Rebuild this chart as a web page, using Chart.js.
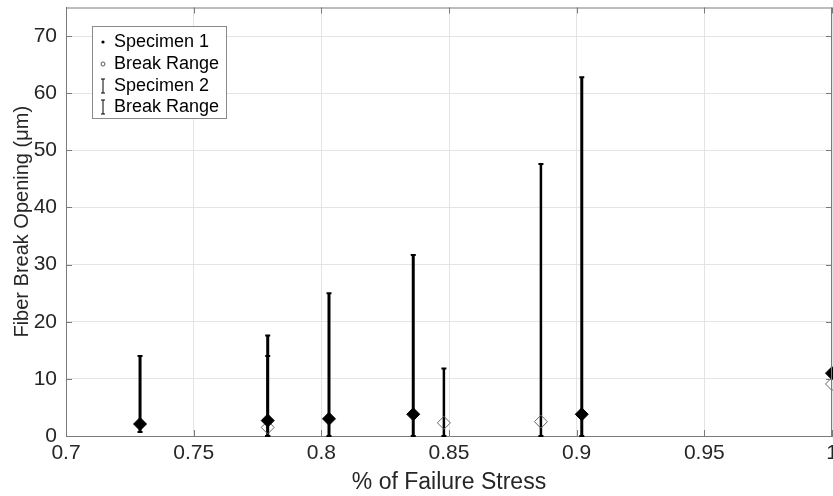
<!DOCTYPE html>
<html>
<head>
<meta charset="utf-8">
<script src="https://cdn.jsdelivr.net/npm/chart.js@4"></script>
<style>
  body { margin: 0; background: #fff; }
  #wrap { width: 833px; height: 496px; overflow: hidden; }
</style>
</head>
<body>
<div id="wrap"><canvas id="breakChart" width="860" height="496"></canvas></div>
<script>
// values
var xTicks = [0.7, 0.75, 0.8, 0.85, 0.9, 0.95, 1.0]
var yTicks = [0, 10, 20, 30, 40, 50, 60, 70]

var spec1X  = [0.729, 0.779, 0.803, 0.836, 0.902, 1.0]
var spec1Y  = [2.1, 2.7, 3.0, 3.8, 3.8, 11.0]
var spec1Lo = [0.7, 0, 0, 0, 0, null]
var spec1Hi = [14.0, 17.6, 25.0, 31.7, 62.8, null]

var spec2X  = [0.779, 0.848, 0.886, 1.0]
var spec2Y  = [1.5, 2.3, 2.5, 9.1]
var spec2Lo = [0, 0, 0, null]
var spec2Hi = [14.0, 11.8, 47.6, null]

var legendLabels = ['Specimen 1', 'Break Range', 'Specimen 2', 'Break Range']

var FONT = "'Liberation Sans', Arial, sans-serif"
var axisGray = '#7a7a7a'

function toPoints(xs, ys){
  return xs.map((x, i) => ({x: x, y: ys[i]}))
}

// error bars, drawn under the markers
const errorBars = {
  id: 'errorBars',
  beforeDatasetsDraw(chart){
    const ctx = chart.ctx
    const xs = chart.scales.x, ys = chart.scales.y
    const sets = [
      {x: spec1X, lo: spec1Lo, hi: spec1Hi, w: 3},
      {x: spec2X, lo: spec2Lo, hi: spec2Hi, w: 2.5}
    ]
    ctx.save()
    ctx.strokeStyle = '#000'
    sets.forEach(s => {
      s.x.forEach((xv, i) => {
        if(s.hi[i] == null) return
        const px = xs.getPixelForValue(xv)
        const top = ys.getPixelForValue(s.hi[i])
        const bot = ys.getPixelForValue(s.lo[i])
        ctx.lineWidth = s.w
        ctx.beginPath(); ctx.moveTo(px, bot); ctx.lineTo(px, top); ctx.stroke()
        ctx.lineWidth = 2
        ctx.beginPath()
        ctx.moveTo(px - 2.5, top); ctx.lineTo(px + 2.5, top)
        ctx.moveTo(px - 2.5, bot); ctx.lineTo(px + 2.5, bot)
        ctx.stroke()
      })
    })
    ctx.restore()
  }
}

// box round the axes, inward ticks and the legend box
const frame = {
  id: 'frame',
  afterDraw(chart){
    const ctx = chart.ctx
    const a = chart.chartArea
    const xs = chart.scales.x, ys = chart.scales.y
    ctx.save()
    ctx.strokeStyle = axisGray
    ctx.lineWidth = 1
    ctx.beginPath()
    ctx.moveTo(a.left, a.top + 0.5); ctx.lineTo(a.right, a.top + 0.5)
    ctx.moveTo(a.right - 0.5, a.top); ctx.lineTo(a.right - 0.5, a.bottom)
    xTicks.forEach(v => {
      const px = Math.round(xs.getPixelForValue(v)) + 0.5
      ctx.moveTo(px, a.bottom); ctx.lineTo(px, a.bottom - 6)
      ctx.moveTo(px, a.top); ctx.lineTo(px, a.top + 6)
    })
    yTicks.forEach(v => {
      const py = Math.round(ys.getPixelForValue(v)) + 0.5
      ctx.moveTo(a.left, py); ctx.lineTo(a.left + 6, py)
      ctx.moveTo(a.right, py); ctx.lineTo(a.right - 6, py)
    })
    ctx.stroke()

    // legend
    const lx = 92.5, ly = 26.5, lw = 134, lh = 92
    ctx.fillStyle = '#fff'
    ctx.fillRect(lx, ly, lw, lh)
    ctx.strokeStyle = '#8a8a8a'
    ctx.strokeRect(lx, ly, lw, lh)
    ctx.font = '18px ' + FONT
    ctx.fillStyle = '#000'
    ctx.textBaseline = 'middle'
    const rows = [42, 64, 86, 107]
    legendLabels.forEach((t, i) => ctx.fillText(t, 114, rows[i]))
    const mx = 103
    ctx.beginPath(); ctx.arc(mx, rows[0], 1.6, 0, Math.PI * 2); ctx.fill()
    ctx.strokeStyle = '#555'
    ctx.beginPath(); ctx.arc(mx, rows[1], 2, 0, Math.PI * 2); ctx.stroke()
    ctx.strokeStyle = '#000'
    ;[rows[2], rows[3]].forEach(r => {
      ctx.beginPath()
      ctx.moveTo(mx, r - 7); ctx.lineTo(mx, r + 7)
      ctx.moveTo(mx - 2, r - 7); ctx.lineTo(mx + 2, r - 7)
      ctx.moveTo(mx - 2, r + 7); ctx.lineTo(mx + 2, r + 7)
      ctx.stroke()
    })
    ctx.restore()
  }
}

var breakCanvas = document.getElementById('breakChart')
var breakChartVar = new Chart(breakCanvas, {
  type: 'scatter',
  data: {
    datasets: [{
      label: 'Specimen 1',
      data: toPoints(spec1X, spec1Y),
      pointStyle: 'rectRot',
      pointRadius: 6.5,
      backgroundColor: '#000',
      borderColor: '#000',
      borderWidth: 1
    }, {
      label: 'Specimen 2',
      data: toPoints(spec2X, spec2Y),
      pointStyle: 'rectRot',
      pointRadius: 6.5,
      backgroundColor: 'rgba(0,0,0,0)',
      borderColor: '#666',
      borderWidth: 1
    }]
  },
  options: {
    responsive: false,
    animation: false,
    clip: false,
    layout: { padding: { top: 6, right: 28, left: 0, bottom: 0 } },
    plugins: {
      legend: { display: false },
      tooltip: { enabled: false }
    },
    scales: {
      x: {
        type: 'linear',
        min: 0.7,
        max: 1.0,
        afterBuildTicks: s => { s.ticks = xTicks.map(v => ({value: v})) },
        afterFit: s => { s.height = 60; s.paddingLeft = 0; s.paddingRight = 0 },
        ticks: {
          font: { family: FONT, size: 21 },
          color: '#262626',
          padding: 5,
          maxRotation: 0,
          callback: v => String(v)
        },
        grid: { color: '#e4e4e4', drawTicks: false },
        border: { color: axisGray },
        title: {
          display: true,
          text: '% of Failure Stress',
          font: { family: FONT, size: 23 },
          color: '#262626',
          padding: { top: 0, bottom: 0 }
        }
      },
      y: {
        min: 0,
        max: 75,
        afterBuildTicks: s => { s.ticks = yTicks.map(v => ({value: v})) },
        afterFit: s => { s.width = 66; s.paddingTop = 0; s.paddingBottom = 0 },
        ticks: {
          font: { family: FONT, size: 21 },
          color: '#262626',
          padding: 9
        },
        grid: { color: '#e4e4e4', drawTicks: false },
        border: { color: axisGray },
        title: {
          display: true,
          text: 'Fiber Break Opening (μm)',
          font: { family: FONT, size: 20 },
          color: '#262626',
          padding: { top: 10, bottom: 0 }
        }
      }
    }
  },
  plugins: [errorBars, frame]
})
</script>
</body>
</html>
